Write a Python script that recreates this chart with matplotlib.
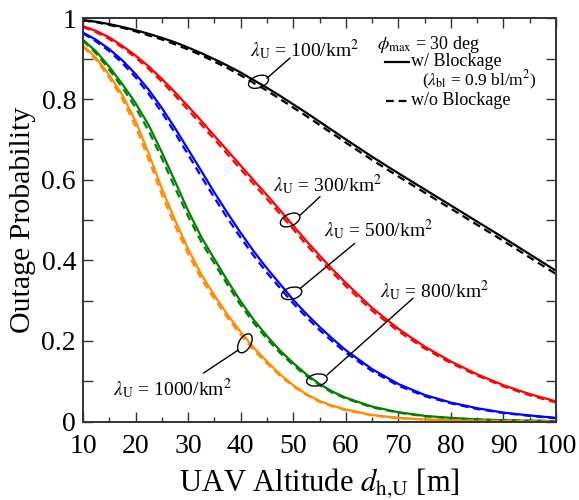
import matplotlib
matplotlib.use('Agg')
import matplotlib.pyplot as plt
from matplotlib.patches import Ellipse
from matplotlib.offsetbox import DrawingArea, AnnotationBbox
from matplotlib.ticker import MultipleLocator, FuncFormatter

plt.rcParams['font.family'] = ['Liberation Serif', 'DejaVu Serif']
plt.rcParams['mathtext.fontset'] = 'stix'

# ---------------- data ----------------
altitude = [10, 12.5, 15, 17.5, 20, 22.5, 25, 27.5, 30, 32.5, 35, 37.5, 40, 42.5, 45,
            47.5, 50, 52.5, 55, 57.5, 60, 65, 70, 75, 80, 85, 90, 95, 100]

densities = ['100', '300', '500', '800', '1000']
colors = ['#000000', '#ff0000', '#0000ff', '#008000', '#ff8c00']

with_block_100 = [0.996, 0.992, 0.986, 0.979, 0.971, 0.962, 0.952, 0.941, 0.928, 0.914,
                  0.899, 0.883, 0.866, 0.847, 0.828, 0.808, 0.787, 0.766, 0.744, 0.722,
                  0.700, 0.657, 0.616, 0.576, 0.536, 0.496, 0.456, 0.415, 0.374]
with_block_300 = [0.981, 0.969, 0.953, 0.932, 0.908, 0.881, 0.850, 0.817, 0.782, 0.746,
                  0.709, 0.672, 0.635, 0.598, 0.562, 0.524, 0.486, 0.448, 0.412, 0.377,
                  0.344, 0.282, 0.230, 0.186, 0.149, 0.117, 0.090, 0.068, 0.050]
with_block_500 = [0.965, 0.947, 0.924, 0.896, 0.862, 0.823, 0.778, 0.728, 0.675, 0.622,
                  0.568, 0.517, 0.468, 0.422, 0.380, 0.341, 0.302, 0.267, 0.235, 0.205,
                  0.177, 0.130, 0.093, 0.066, 0.047, 0.033, 0.022, 0.015, 0.009]
with_block_800 = [0.947, 0.918, 0.880, 0.837, 0.790, 0.735, 0.668, 0.596, 0.523, 0.458,
                  0.403, 0.349, 0.298, 0.252, 0.212, 0.176, 0.145, 0.117, 0.093, 0.074,
                  0.059, 0.037, 0.023, 0.014, 0.009, 0.005, 0.003, 0.002, 0.001]
with_block_1000 = [0.933, 0.902, 0.860, 0.810, 0.745, 0.665, 0.578, 0.500, 0.428, 0.365,
                   0.313, 0.265, 0.222, 0.183, 0.149, 0.117, 0.090, 0.068, 0.051, 0.039,
                   0.030, 0.016, 0.009, 0.005, 0.003, 0.002, 0.001, 0.0005, 0.0003]

without_block_100 = [0.995, 0.991, 0.984, 0.977, 0.968, 0.958, 0.948, 0.936, 0.923, 0.909,
                     0.893, 0.877, 0.859, 0.840, 0.821, 0.800, 0.779, 0.758, 0.736, 0.714,
                     0.692, 0.649, 0.608, 0.568, 0.528, 0.488, 0.448, 0.407, 0.366]
without_block_300 = [0.979, 0.966, 0.949, 0.928, 0.903, 0.875, 0.843, 0.809, 0.773, 0.737,
                     0.700, 0.663, 0.626, 0.589, 0.552, 0.515, 0.477, 0.439, 0.403, 0.369,
                     0.336, 0.275, 0.224, 0.181, 0.145, 0.114, 0.087, 0.065, 0.047]
without_block_500 = [0.963, 0.943, 0.919, 0.889, 0.854, 0.813, 0.767, 0.716, 0.662, 0.608,
                     0.555, 0.504, 0.456, 0.411, 0.369, 0.331, 0.293, 0.259, 0.227, 0.198,
                     0.171, 0.125, 0.089, 0.063, 0.045, 0.031, 0.021, 0.014, 0.008]
without_block_800 = [0.945, 0.913, 0.873, 0.828, 0.779, 0.721, 0.653, 0.580, 0.509, 0.446,
                     0.392, 0.339, 0.289, 0.244, 0.205, 0.170, 0.140, 0.113, 0.090, 0.071,
                     0.057, 0.035, 0.022, 0.013, 0.008, 0.005, 0.003, 0.002, 0.001]
without_block_1000 = [0.930, 0.897, 0.853, 0.800, 0.732, 0.650, 0.563, 0.486, 0.416, 0.354,
                      0.304, 0.257, 0.215, 0.177, 0.144, 0.113, 0.087, 0.066, 0.049, 0.037,
                      0.028, 0.015, 0.008, 0.005, 0.003, 0.002, 0.001, 0.0005, 0.0003]

with_block = [with_block_100, with_block_300, with_block_500, with_block_800, with_block_1000]
without_block = [without_block_100, without_block_300, without_block_500,
                 without_block_800, without_block_1000]

x_ticks = [10, 20, 30, 40, 50, 60, 70, 80, 90, 100]
y_ticks = [0, 0.2, 0.4, 0.6, 0.8, 1.0]

# ---------------- annotation layout ----------------
annot_layout = [
    dict(text=(52.2, 0.922), p0=(49.4, 0.902), p1=(45.0, 0.852), ell=(43.4, 0.843), ang=20),
    dict(text=(56.5, 0.587), p0=(55.1, 0.558), p1=(51.3, 0.512), ell=(49.4, 0.500), ang=25),
    dict(text=(66.2, 0.475), p0=(61.7, 0.442), p1=(51.3, 0.330), ell=(49.7, 0.318), ang=15),
    dict(text=(76.8, 0.326), p0=(72.8, 0.306), p1=(56.4, 0.115), ell=(54.5, 0.103), ang=10),
    dict(text=(27.0, 0.082), p0=(32.9, 0.120), p1=(39.5, 0.177), ell=(40.8, 0.194), ang=60),
]

DASH = (0, (3.5, 2.2))

fig = plt.figure(figsize=(5.79, 5.0), dpi=100)
ax = fig.add_axes([0.1434, 0.157, 0.8169, 0.806])

for c, ys in zip(colors, with_block):
    ax.plot(altitude, ys, color=c, lw=1.6, ls='-', solid_joinstyle='round')
for c, ys in zip(colors, without_block):
    ax.plot(altitude, ys, color=c, lw=1.6, ls=DASH)

ax.set_xlim(10, 100)
ax.set_ylim(0, 1)
ax.set_xticks(x_ticks)
ax.set_yticks(y_ticks)
ax.xaxis.set_minor_locator(MultipleLocator(5))
ax.yaxis.set_minor_locator(MultipleLocator(0.1))
ax.yaxis.set_major_formatter(FuncFormatter(lambda v, p: f'{v:g}'))
ax.tick_params(which='both', direction='in', top=True, right=True, labelsize=20,
               width=1.0, color='#333333')
ax.tick_params(which='major', length=7, pad=5)
ax.tick_params(axis='x', which='major', pad=9)
ax.tick_params(axis='x', which='minor', length=3.5)
ax.tick_params(axis='y', which='minor', length=7)
for s in ax.spines.values():
    s.set_linewidth(1.4)
    s.set_color('#333333')

ax.set_xlabel(r'UAV Altitude $d_{\mathrm{h{,}U}}$ [m]', fontsize=22)
ax.set_ylabel('Outage Probability', fontsize=21.5)
ax.xaxis.set_label_coords(0.5, -0.112)
ax.yaxis.set_label_coords(-0.10, 0.5)

# annotations
for d, lay in zip(densities, annot_layout):
    ax.text(lay['text'][0], lay['text'][1], r'$\lambda_{\mathrm{U}}$ = ' + d + r'/km$^2$',
            fontsize=14, ha='center', va='center')
    ax.annotate('', xy=lay['p1'], xytext=lay['p0'],
                arrowprops=dict(arrowstyle='-', lw=1.0, color='k', shrinkA=0, shrinkB=0))
    da = DrawingArea(20, 20, 0, 0, clip=False)
    da.add_artist(Ellipse((10, 10), 15, 8.5, angle=lay['ang'], fill=False, lw=1.0, ec='k'))
    ab = AnnotationBbox(da, lay['ell'], frameon=False, box_alignment=(0.5, 0.5), pad=0)
    ax.add_artist(ab)

# legend (manual)
ax.text(0.621, 0.936, r'$\phi_{\mathrm{max}}$ = 30 deg', transform=ax.transAxes,
        fontsize=13, ha='left', va='center')
ax.plot([0.638, 0.690], [0.893, 0.893], color='k', lw=1.6, transform=ax.transAxes)
ax.text(0.693, 0.893, 'w/ Blockage', transform=ax.transAxes, fontsize=13,
        ha='left', va='center')
ax.text(0.716, 0.846, r'($\lambda_{\mathrm{bl}}$ = 0.9 bl/m$^2$)', transform=ax.transAxes,
        fontsize=12.5, ha='left', va='center')
ax.plot([0.640, 0.690], [0.796, 0.796], color='k', lw=1.6, ls=DASH,
        transform=ax.transAxes)
ax.text(0.693, 0.796, 'w/o Blockage', transform=ax.transAxes, fontsize=13,
        ha='left', va='center')

fig.savefig('out.png', dpi=100)
